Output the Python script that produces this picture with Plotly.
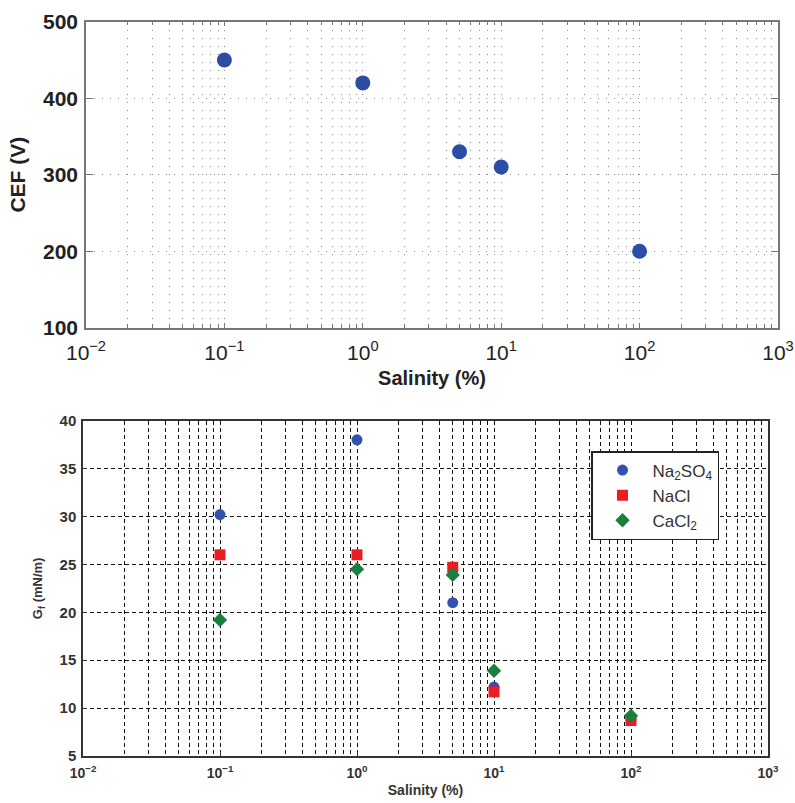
import plotly.graph_objects as go

# ---- data ----
salinity_top = [0.1, 1, 5, 10, 100]
cef_values = [450, 420, 330, 310, 200]

salinity_bot = [0.1, 1, 5, 10, 100]
na2so4 = [30.2, 38.0, 21.0, 12.2, 8.8]
nacl = [26.0, 26.0, 24.7, 11.7, 8.7]
cacl2 = [19.2, 24.5, 23.9, 13.9, 9.2]

x_tickvals = [1e-2, 1e-1, 1e0, 1e1, 1e2, 1e3]
x_ticktext = ["10<sup>\u22122</sup>", "10<sup>\u22121</sup>", "10<sup>0</sup>",
              "10<sup>1</sup>", "10<sup>2</sup>", "10<sup>3</sup>"]
minor_vals = [m * 10.0 ** e for e in range(-2, 3) for m in range(2, 10)]

W, H = 795, 803
FONT = "Liberation Sans, Arial, sans-serif"

fig = go.Figure()

fig.add_trace(go.Scatter(
    x=salinity_top, y=cef_values, mode="markers", showlegend=False,
    marker=dict(symbol="circle", size=15, color="#2c4ca6"),
    xaxis="x", yaxis="y"))

fig.add_trace(go.Scatter(
    x=salinity_bot, y=na2so4, mode="markers", name="Na<sub>2</sub>SO<sub>4</sub>",
    marker=dict(symbol="circle", size=11, color="#3352b0"),
    xaxis="x2", yaxis="y2"))
fig.add_trace(go.Scatter(
    x=salinity_bot, y=nacl, mode="markers", name="NaCl",
    marker=dict(symbol="square", size=11, color="#ec1c24"),
    xaxis="x2", yaxis="y2"))
fig.add_trace(go.Scatter(
    x=salinity_bot, y=cacl2, mode="markers", name="CaCl<sub>2</sub>",
    marker=dict(symbol="diamond", size=11, color="#18803c"),
    xaxis="x2", yaxis="y2"))

top_grid = dict(gridcolor="#8a8a8a", griddash="1px,7px", gridwidth=1)
bot_grid = dict(gridcolor="#111111", griddash="4px,3px", gridwidth=1)

fig.update_layout(
    width=W, height=H,
    margin=dict(l=0, r=0, t=0, b=0),
    paper_bgcolor="white", plot_bgcolor="white",
    font=dict(family=FONT, color="#222"),
    xaxis=dict(
        type="log", range=[-2, 3], domain=[86 / W, 778 / W], anchor="y",
        tickvals=x_tickvals, ticktext=x_ticktext,
        tickfont=dict(size=21, color="#222"),
        ticks="inside", ticklen=5, tickcolor="#777",
        showgrid=True, **top_grid,
        minor=dict(tickvals=minor_vals, showgrid=True, ticks="inside", ticklen=4,
                   tickcolor="#777", **top_grid),
        showline=True, linecolor="#777", linewidth=1.5, mirror="allticks",
        zeroline=False, automargin=False, ticklabelstandoff=5,
        title=dict(text="<b>Salinity (%)</b>", font=dict(size=20, color="#222"), standoff=8),
    ),
    yaxis=dict(
        range=[100, 500], domain=[1 - 327.7 / H, 1 - 21.7 / H], anchor="x",
        tickvals=[100, 200, 300, 400, 500],
        tickfont=dict(size=21, color="#222", weight="bold"),
        ticks="inside", ticklen=7, tickcolor="#777",
        showgrid=True, **top_grid,
        showline=True, linecolor="#777", linewidth=1.5, mirror="allticks",
        zeroline=False, automargin=False, ticklabelstandoff=2,
        title=dict(text="<b>CEF (V)</b>", font=dict(size=21, color="#222"), standoff=12),
    ),
    xaxis2=dict(
        type="log", range=[-2, 3], domain=[83 / W, 768 / W], anchor="y2",
        tickvals=x_tickvals, ticktext=x_ticktext,
        tickfont=dict(size=14, color="#333", weight="bold"),
        ticks="inside", ticklen=4, tickcolor="#333",
        showgrid=True, **bot_grid,
        minor=dict(tickvals=minor_vals, showgrid=True, ticks="", **bot_grid),
        showline=True, linecolor="#333", linewidth=1.5, mirror=True,
        zeroline=False, automargin=False, ticklabelstandoff=3,
        title=dict(text="<b>Salinity (%)</b>", font=dict(size=14, color="#333"), standoff=6),
    ),
    yaxis2=dict(
        range=[5, 40], domain=[1 - 756 / H, 1 - 420.7 / H], anchor="x2",
        tickvals=[5, 10, 15, 20, 25, 30, 35, 40],
        tickfont=dict(size=15, color="#333", weight="bold"),
        ticks="inside", ticklen=4, tickcolor="#333",
        showgrid=True, **bot_grid,
        showline=True, linecolor="#333", linewidth=1.5, mirror=True,
        zeroline=False, automargin=False, ticklabelstandoff=2,
        title=dict(text="<b>G<sub>f</sub> (mN/m)</b>", font=dict(size=13, color="#333"), standoff=14),
    ),
    legend=dict(
        x=591 / W, y=1 - 451 / H, xanchor="left", yanchor="top",
        bgcolor="white", bordercolor="#222", borderwidth=1.5,
        font=dict(size=17, color="#333"), itemwidth=50,
        tracegroupgap=0,
    ),
)

fig.write_html("out.html")
